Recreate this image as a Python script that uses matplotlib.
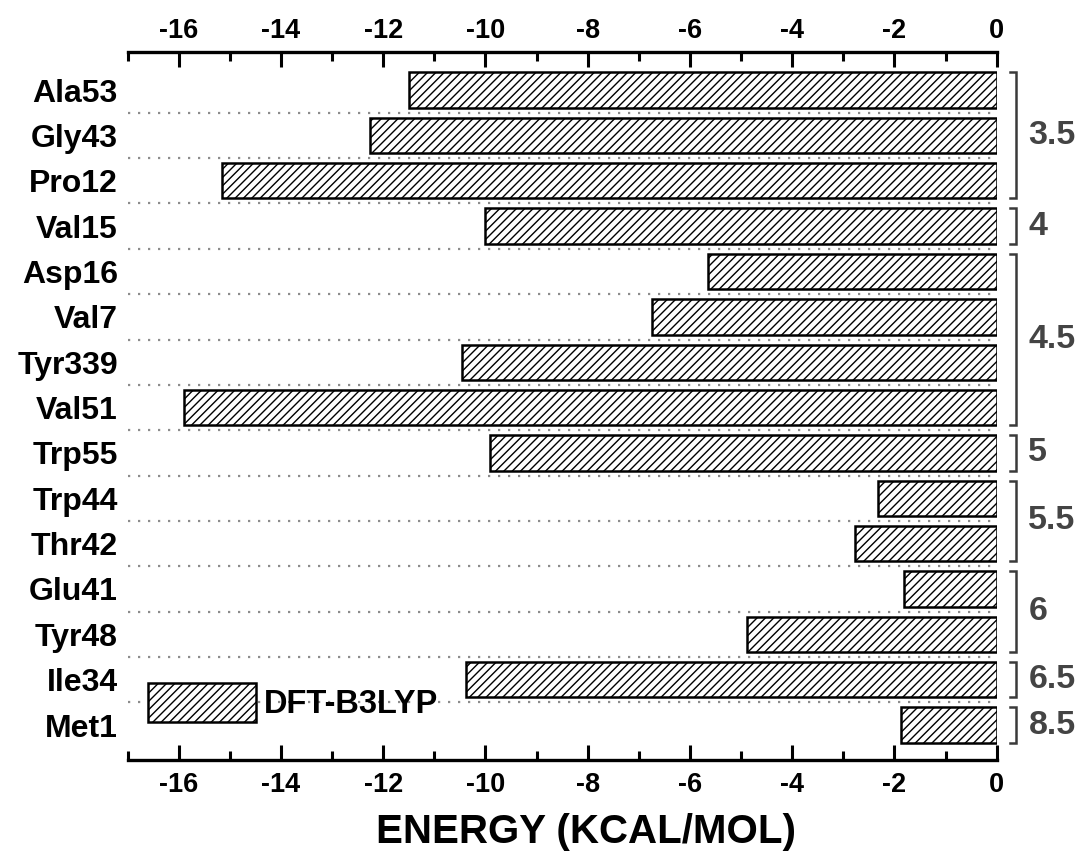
import numpy as np
import matplotlib
matplotlib.use("Agg")
import matplotlib.pyplot as plt
from matplotlib.ticker import MultipleLocator

plt.rcParams["font.family"] = ["Liberation Sans", "DejaVu Sans"]
plt.rcParams["font.weight"] = "bold"
plt.rcParams["hatch.linewidth"] = 1.0
plt.rcParams["axes.unicode_minus"] = False

# residues, top to bottom
residues = ["Ala53", "Gly43", "Pro12", "Val15", "Asp16", "Val7", "Tyr339", "Val51",
            "Trp55", "Trp44", "Thr42", "Glu41", "Tyr48", "Ile34", "Met1"]
energy = [-11.5, -12.25, -15.15, -10.0, -5.65, -6.75, -10.45, -15.9,
          -9.92, -2.33, -2.78, -1.81, -4.88, -10.38, -1.87]

# distance groups (first index, last index, label)
group_start = [0, 3, 4, 8, 9, 11, 13, 14]
group_end = [2, 3, 7, 8, 10, 12, 13, 14]
group_label = ["3.5", "4", "4.5", "5", "5.5", "6", "6.5", "8.5"]

series_name = "DFT-B3LYP"

fig = plt.figure(figsize=(10.81, 8.52), dpi=100)
ax = fig.add_axes([0.118, 0.108, 0.804, 0.831])

y = np.arange(len(residues))
bh = 0.78
bars = ax.barh(y, energy, height=bh, color="white", edgecolor="black",
               linewidth=1.8, hatch="////", zorder=3)

# dotted separators
for k in range(len(residues) - 1):
    ax.plot([-17, 0], [k + 0.5, k + 0.5], color="#8c8c8c", lw=1.6,
            linestyle=(0, (1, 3.5)), zorder=1)

ax.set_xlim(-17, 0)
ax.set_ylim(len(residues) - 0.23, -0.84)

ax.set_yticks(y)
ax.set_yticklabels(residues, fontsize=23, fontweight="bold")
ax.tick_params(axis="y", length=0, pad=7)

ax.xaxis.set_major_locator(MultipleLocator(2))
ax.xaxis.set_minor_locator(MultipleLocator(1))
ax.tick_params(axis="x", which="both", direction="in", top=False, bottom=True,
               labelsize=19.5, width=2.2, pad=9)
ax.tick_params(axis="x", which="major", length=11)
ax.tick_params(axis="x", which="minor", length=6.5)
for lab in ax.get_xticklabels():
    lab.set_fontweight("bold")

# top axis with same ticks
sec = ax.secondary_xaxis("top")
sec.xaxis.set_major_locator(MultipleLocator(2))
sec.xaxis.set_minor_locator(MultipleLocator(1))
sec.tick_params(axis="x", which="both", direction="in", labelsize=19.5,
                width=2.2, pad=6)
sec.tick_params(axis="x", which="major", length=11)
sec.tick_params(axis="x", which="minor", length=6.5)
sec.spines["top"].set_linewidth(2.4)
for lab in sec.get_xticklabels():
    lab.set_fontweight("bold")

for s in ["left", "right", "top"]:
    ax.spines[s].set_visible(False)
ax.spines["bottom"].set_linewidth(2.4)

ax.set_xlabel("ENERGY (KCAL/MOL)", fontsize=29, fontweight="bold", labelpad=9)
ax.xaxis.set_label_coords(0.527, -0.075)
ax.xaxis.label.set_va("top")

# brackets for the distance groups
bc = "#3a3a3a"
for a, b, lab in zip(group_start, group_end, group_label):
    top = a - bh / 2
    bot = b + bh / 2
    ax.plot([0.27, 0.37, 0.37, 0.27], [top, top, bot, bot], color=bc, lw=1.8,
            clip_on=False, solid_joinstyle="miter")
    ax.text(0.62, (a + b) / 2, lab, color="#444444", fontsize=24.5,
            fontweight="bold", va="center", ha="left", clip_on=False)

ax.legend([bars[0]], [series_name], loc="center left",
          bbox_to_anchor=(-0.01, 0.081), frameon=False, fontsize=23.5,
          handlelength=3.31, handleheight=1.48, handletextpad=0.22)

fig.savefig("out.png", dpi=100)
